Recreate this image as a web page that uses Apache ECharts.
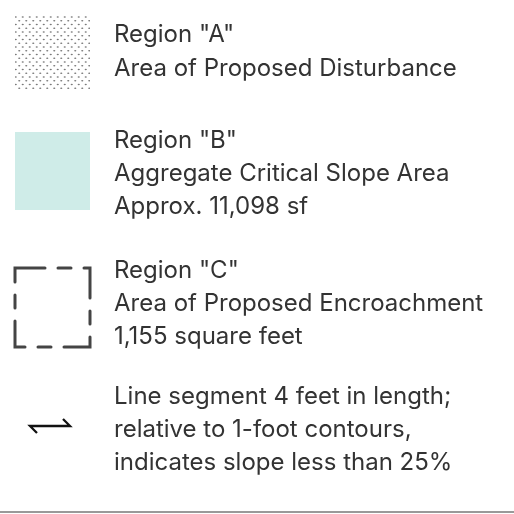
<!DOCTYPE html>
<html>
<head>
<meta charset="utf-8">
<script src="https://cdn.jsdelivr.net/npm/echarts@6/dist/echarts.min.js"></script>
<style>
html,body{margin:0;padding:0;background:#fff;}
#chart{width:514px;height:514px;}
</style>
</head>
<body>
<div id="chart"></div>
<script>
// Legend content
const regionTitles = ['Region "A"', 'Region "B"', 'Region "C"', null];
const regionDescriptions = [
  ['Area of Proposed Disturbance'],
  ['Aggregate Critical Slope Area', 'Approx. 11,098 sf'],
  ['Area of Proposed Encroachment', '1,155 square feet'],
  ['Line segment 4 feet in length;', 'relative to 1-foot contours,', 'indicates slope less than 25%']
];
const symbolKinds = ['dots', 'fill', 'dashed', 'arrow'];

// Layout (not data)
const firstBaseline = [43, 149, 279, 405];
const lineGap = [34, 33, 33, 33];
const textX = 114;
const fontSize = 24;
const textColor = '#333333';

function dotPattern() {
  const c = document.createElement('canvas');
  c.width = 14; c.height = 15;
  const ctx = c.getContext('2d');
  ctx.fillStyle = '#7a7a7a';
  const rows = [[1.9, [1.75, 8.75]], [5.65, [5.25, 12.25]], [9.4, [1.75, 8.75]], [13.15, [5.25, 12.25]]];
  rows.forEach(([y, xs]) => xs.forEach(x => {
    ctx.beginPath(); ctx.ellipse(x, y, 1.1, 0.75, 0, 0, Math.PI * 2); ctx.fill();
  }));
  return c;
}

const elements = [];
symbolKinds.forEach((kind, i) => {
  if (kind === 'dots') {
    elements.push({ type: 'rect', shape: { x: 15, y: 15, width: 75, height: 76 },
      style: { fill: { image: dotPattern(), repeat: 'repeat' } } });
  } else if (kind === 'fill') {
    elements.push({ type: 'rect', shape: { x: 15, y: 132, width: 75, height: 78 },
      style: { fill: '#cfece8' } });
  } else if (kind === 'dashed') {
    elements.push({ type: 'rect', shape: { x: 15, y: 268, width: 75, height: 79 },
      style: { fill: null, stroke: '#444444', lineWidth: 3, lineDash: [36, 13, 13, 13], lineDashOffset: 6, lineCap: 'round' } });
  } else if (kind === 'arrow') {
    elements.push({ type: 'polyline', shape: { points: [[37, 433], [30, 426], [70, 426], [63, 419]] },
      style: { fill: null, stroke: '#111111', lineWidth: 2.3, lineJoin: 'miter' } });
  }
  const lines = (regionTitles[i] ? [regionTitles[i]] : []).concat(regionDescriptions[i]);
  lines.forEach((t, j) => {
    elements.push({ type: 'text', x: textX, y: firstBaseline[i] + j * lineGap[i] - 0.36 * fontSize,
      style: { text: t, fill: textColor, font: fontSize + 'px Inter', verticalAlign: 'middle' } });
  });
});
elements.push({ type: 'line', shape: { x1: 0, y1: 512, x2: 514, y2: 512 },
  style: { stroke: '#777777', lineWidth: 1.5 } });

const chart = echarts.init(document.getElementById('chart'), null, { renderer: 'canvas' });
chart.setOption({ animation: false, backgroundColor: '#ffffff', graphic: { elements } });
</script>
</body>
</html>
